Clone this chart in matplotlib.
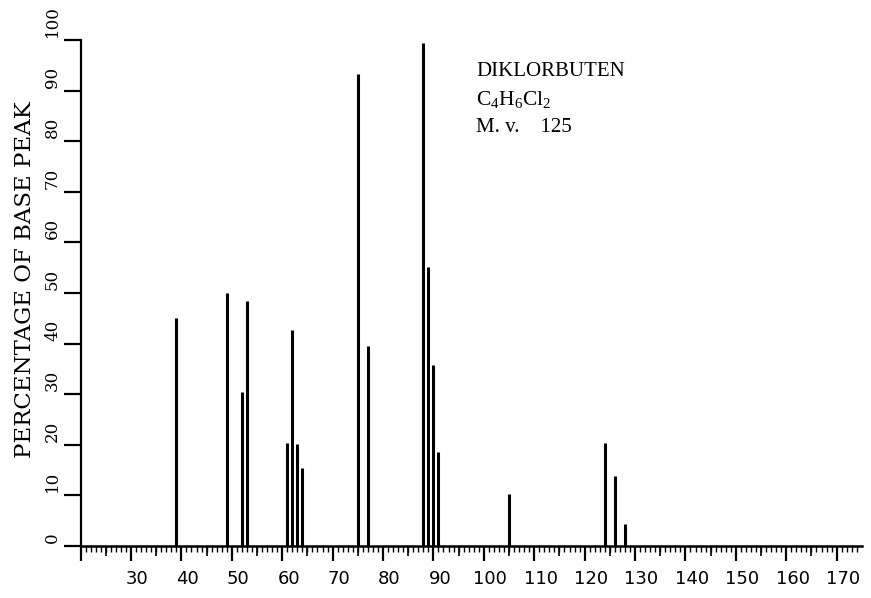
import numpy as np
import matplotlib
matplotlib.use("Agg")
import matplotlib.pyplot as plt
import matplotlib.transforms as mtransforms

# mass spectrum of dichlorobutene, relative intensities (% of base peak)
mz = [39, 49, 52, 53, 61, 62, 63, 64, 75, 77, 88, 89, 90, 91, 105, 124, 126, 128]
intensity = [45, 50, 30.5, 48.5, 20.3, 42.7, 20.1, 15.5, 93.3, 39.6,
             99.4, 55.1, 35.8, 18.6, 10.3, 20.4, 13.8, 4.3]

x_ticks = list(range(30, 171, 10))
y_ticks = list(range(0, 101, 10))

compound = "DIKLORBUTEN"
formula = r"C$_4$H$_6$Cl$_2$"
mol_weight = "M. v.    125"

plt.rcParams['mathtext.fontset'] = 'custom'
plt.rcParams['mathtext.rm'] = 'Liberation Serif'
plt.rcParams['mathtext.it'] = 'Liberation Serif'

fig = plt.figure(figsize=(8.71, 5.98), dpi=100)
ax = fig.add_axes([0.0925, 0.087, 0.897, 0.846])

ax.vlines(mz, 0, intensity, colors='black', linewidth=2.2)

ax.set_xlim(20, 175)
ax.set_ylim(0, 100)
for side in ('top', 'right'):
    ax.spines[side].set_visible(False)
ax.spines['left'].set_linewidth(1.6)
ax.spines['bottom'].set_linewidth(1.8)

# x axis: majors every 10, small ticks every unit, medium ticks every 5
ax.set_xticks([20] + x_ticks)
ax.set_xticklabels([''] + [str(t) for t in x_ticks],
                   fontfamily='DejaVu Sans', fontsize=13)
ax.set_xticks(np.arange(20, 175, 1), minor=True)
ax.tick_params(axis='x', which='major', direction='out', length=11, width=1.6, pad=6)
ax.tick_params(axis='x', which='minor', direction='out', length=4, width=1.0)
sec = ax.secondary_xaxis('bottom')
sec.set_xticks(np.arange(25, 175, 10))
sec.set_xticklabels([])
sec.tick_params(direction='out', length=7, width=1.2)
sec.spines['bottom'].set_visible(False)

shift = mtransforms.ScaledTranslation(0.065, 0, fig.dpi_scale_trans)
for lab in ax.get_xticklabels():
    lab.set_transform(lab.get_transform() + shift)

# y axis: rotated labels every 10, sitting just above their ticks
ax.set_yticks(y_ticks)
ax.set_yticklabels([str(t) for t in y_ticks], rotation=90, va='bottom',
                   fontfamily='DejaVu Serif', fontsize=12)
ax.tick_params(axis='y', direction='out', length=12, width=1.6, pad=2)
lift = mtransforms.ScaledTranslation(0, 0.03, fig.dpi_scale_trans)
for lab in ax.get_yticklabels():
    lab.set_transform(lab.get_transform() + lift)

fig.text(25 / 871, 1 - 280 / 598, "PERCENTAGE OF BASE PEAK", rotation=90,
         ha='center', va='center', fontfamily='DejaVu Serif', fontsize=16.5)

fig.text(476 / 871, 1 - 71 / 598, compound, ha='left', va='center',
         fontfamily='Liberation Serif', fontsize=15)
fig.text(476 / 871, 1 - 100 / 598, formula, ha='left', va='center',
         fontfamily='Liberation Serif', fontsize=15.5)
fig.text(476 / 871, 1 - 127 / 598, mol_weight, ha='left', va='center',
         fontfamily='Liberation Serif', fontsize=15)

fig.savefig('out.png', dpi=100)
